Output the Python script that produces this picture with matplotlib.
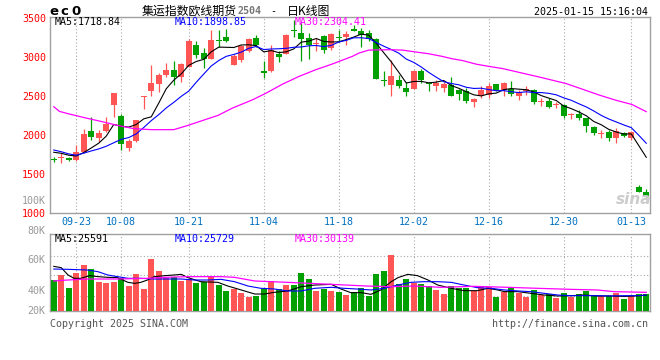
import matplotlib
matplotlib.use("Agg")
import matplotlib.pyplot as plt
import numpy as np

# Daily K-line data, EC2504 container freight futures, 2024-09-18 .. 2025-01-15
opens = [1700, 1712, 1702, 1680, 1786, 2051, 1966, 2051, 2390, 2245,
         1842, 1928, 2495, 2565, 2661, 2770, 2841, 2747, 2871, 3163,
         3056, 2979, 3225, 3266, 2897, 2970, 3077, 3248, 2818, 2829,
         3043, 3043, 3350, 3313, 3248, 3172, 3279, 3120, 3264, 3266,
         3369, 3343, 3313, 3240, 2710, 2649, 2713, 2614, 2597, 2820,
         2668, 2636, 2614, 2649, 2584, 2571, 2434, 2499, 2520, 2662,
         2584, 2597, 2507, 2571, 2584, 2428, 2443, 2386, 2392, 2257,
         2276, 2220, 2104, 2021, 2049, 1972, 2027, 1963, 1333, 1277]
highs = [1720, 1770, 1720, 1870, 2077, 2235, 2064, 2240, 2545, 2275,
         1958, 2200, 2510, 2905, 2800, 2927, 2949, 2927, 3240, 3214,
         3120, 3356, 3356, 3369, 3043, 3163, 3248, 3283, 2957, 3163,
         3086, 3300, 3484, 3441, 3313, 3248, 3285, 3308, 3356, 3334,
         3420, 3377, 3356, 3245, 2829, 2970, 2777, 2691, 2841, 2854,
         2691, 2713, 2691, 2743, 2590, 2614, 2477, 2627, 2670, 2665,
         2691, 2700, 2584, 2627, 2597, 2477, 2477, 2426, 2396, 2293,
         2327, 2229, 2126, 2070, 2070, 2100, 2049, 2057, 1363, 1307]
lows = [1660, 1650, 1672, 1675, 1780, 1936, 1915, 2045, 2230, 1815,
        1800, 1920, 2335, 2500, 2554, 2743, 2649, 2683, 2871, 2991,
        2863, 2979, 3129, 3193, 2897, 2940, 3070, 3140, 2734, 2811,
        2940, 3043, 3257, 2957, 2978, 3077, 3051, 3099, 3197, 3163,
        3334, 3129, 3206, 2720, 2627, 2499, 2614, 2499, 2597, 2670,
        2563, 2571, 2554, 2499, 2456, 2413, 2370, 2477, 2477, 2570,
        2507, 2499, 2456, 2520, 2404, 2379, 2357, 2357, 2229, 2207,
        2199, 2049, 2006, 1972, 1929, 1907, 1984, 1942, 1277, 1213]
closes = [1690, 1720, 1692, 1786, 2013, 1978, 2030, 2141, 2540, 1895,
          1923, 2195, 2507, 2670, 2777, 2841, 2743, 2914, 3214, 3026,
          2979, 3227, 3212, 3206, 3013, 3141, 3240, 3154, 2808, 3099,
          3009, 3291, 3340, 3240, 3163, 3182, 3099, 3304, 3254, 3304,
          3343, 3291, 3240, 2726, 2700, 2756, 2627, 2550, 2820, 2713,
          2658, 2674, 2657, 2499, 2533, 2443, 2469, 2584, 2636, 2576,
          2670, 2533, 2550, 2597, 2434, 2438, 2370, 2396, 2242, 2267,
          2229, 2126, 2027, 2031, 1972, 2057, 1997, 2040, 1277, 1226]

# moving average lines as drawn on the chart
ma5 = [1783, 1770, 1745, 1735, 1780, 1838, 1900, 1990, 2140, 2117,
       2106, 2139, 2212, 2238, 2414, 2598, 2708, 2789, 2898, 2948,
       2975, 3072, 3132, 3130, 3127, 3160, 3162, 3151, 3071, 3088,
       3062, 3072, 3109, 3196, 3209, 3243, 3205, 3198, 3200, 3229,
       3261, 3299, 3286, 3181, 3060, 2943, 2810, 2672, 2691, 2693,
       2674, 2683, 2704, 2640, 2604, 2561, 2520, 2506, 2533, 2542,
       2587, 2600, 2593, 2585, 2557, 2510, 2478, 2447, 2376, 2343,
       2301, 2252, 2178, 2136, 2077, 2043, 2017, 2019, 1869, 1719]
ma10 = [1812, 1790, 1762, 1745, 1772, 1800, 1826, 1860, 1905, 1949,
        1972, 2019, 2101, 2189, 2266, 2352, 2423, 2501, 2568, 2681,
        2787, 2890, 2960, 3014, 3038, 3068, 3117, 3141, 3101, 3108,
        3111, 3117, 3130, 3134, 3149, 3153, 3139, 3154, 3198, 3219,
        3252, 3252, 3242, 3191, 3144, 3102, 3055, 2979, 2936, 2877,
        2808, 2746, 2688, 2665, 2649, 2617, 2602, 2605, 2587, 2573,
        2574, 2560, 2549, 2559, 2549, 2549, 2539, 2520, 2481, 2450,
        2406, 2365, 2313, 2256, 2210, 2172, 2134, 2099, 2002, 1899]
ma30_x = [0, 0.75, 1.9, 4.1, 6.3, 8.5, 10.7, 13, 16, 17.9, 19.6, 21.9, 23.8,
          26.5, 28.3, 30.5, 32.7, 34.9, 37.1, 39.8, 40.7, 42, 44.7, 46.5,
          48.3, 50, 51.8, 53.1, 54.5, 56.3, 58, 59.8, 61.6, 63.4, 65.1,
          68.3, 70.5, 72.7, 74.9, 77.1, 79]
ma30 = [2368, 2308, 2278, 2227, 2179, 2128, 2086, 2073, 2073, 2128, 2183,
        2256, 2349, 2456, 2541, 2657, 2756, 2841, 2914, 3013, 3056, 3094,
        3099, 3094, 3069, 3047, 3013, 2983, 2960, 2914, 2885, 2858, 2818,
        2778, 2740, 2665, 2592, 2518, 2452, 2396, 2304]

# volume (thousand lots)
volumes = [50.0, 58.1, 37.6, 61.8, 74.2, 67.7, 47.3, 45.7, 47.3, 52.7,
           40.3, 59.7, 35.5, 83.9, 65.0, 52.7, 55.4, 48.9, 51.1, 45.7,
           46.2, 56.4, 41.9, 32.3, 35.5, 29.6, 23.1, 24.7, 34.9, 48.4,
           35.5, 41.9, 41.9, 61.8, 51.6, 32.3, 35.5, 32.3, 30.6, 25.8,
           30.6, 37.6, 24.7, 59.7, 64.5, 90.3, 43.5, 51.6, 44.6, 43.5,
           40.3, 33.9, 27.4, 40.3, 37.6, 37.6, 32.8, 39.2, 39.2, 23.1,
           31.2, 37.6, 29.6, 23.1, 33.9, 25.8, 27.4, 21.5, 29.6, 23.1,
           27.4, 32.3, 25.8, 24.7, 24.2, 29.6, 19.4, 24.2, 27.4, 27.4]
vma5_x = [0, 1, 1.9, 2.7, 3.6, 4.8, 5.9, 7.2, 8.5, 9.9, 10.8, 11.6, 12.5,
          13.4, 14.8, 16.1, 17, 17.9, 19.6, 21.9, 23.2, 25, 26.8, 28.1,
          29.4, 31.2, 33, 34.8, 37, 38.3, 39.6, 41, 42.3, 43.6, 45, 45.9,
          47.2, 48.5, 49.9, 51.2, 53, 54.7, 56.5, 57.9, 59.2, 60.1, 61.9,
          63.6, 65.4, 67.2, 69, 70.7, 72.5, 74.3, 76.1, 77.9, 79]
vma5 = [72, 69.9, 58.1, 52.7, 52.7, 57.0, 55.4, 54.3, 53.8, 46.2, 44.6,
        46.2, 50.0, 55.4, 57.0, 58.1, 59.1, 53.8, 47.3, 46.2, 40.3, 33.9,
        27.4, 27.4, 30.1, 32.3, 39.2, 41.9, 43.0, 35.5, 29.6, 29.6, 26.9,
        33.9, 47.3, 53.8, 59.1, 57.0, 50.0, 41.9, 36.6, 32.8, 32.8, 36.6,
        33.9, 31.2, 31.2, 28.5, 25.8, 24.2, 24.7, 25.8, 24.2, 24.2, 23.5,
        24.5, 25.6]
vma10_x = [0, 1.9, 4.5, 5.9, 7.2, 8.5, 9.9, 11.6, 13.4, 15.2, 17, 18.7,
           20.5, 22.3, 24.1, 25.9, 27.6, 29.4, 31.2, 33, 34.8, 37, 38.7,
           40.4, 42.3, 44.1, 45.9, 47.6, 49.4, 51.2, 53, 54.7, 56.5, 58.3,
           60.1, 61.9, 63.6, 65.4, 67.2, 69, 70.7, 72.5, 74.3, 76.1, 77.9, 79]
vma10 = [67.7, 67.2, 66.1, 63.4, 58.1, 55.4, 52.7, 52.7, 51.6, 51.6, 51.6,
         50.0, 50.0, 51.1, 47.3, 40.3, 36.6, 35.5, 32.3, 32.3, 36.6, 38.2,
         36.6, 35.5, 33.9, 36.6, 41.9, 46.2, 47.3, 47.3, 46.2, 41.9, 37.6,
         36.6, 33.9, 32.3, 31.2, 28.5, 25.8, 24.7, 24.7, 24.7, 24.2, 24.7,
         24.7, 25.7]
vma30_x = [0, 1.9, 4.5, 8.5, 12.5, 14.8, 17.9, 22.3, 24.1, 26.8, 31.2, 37,
           41.7, 45, 48.1, 51.6, 56, 60.5, 64.5, 69, 72.5, 74.7, 79]
vma30 = [48.4, 50.0, 51.6, 51.6, 52.7, 54.3, 55.4, 55.4, 54.3, 48.4, 46.2,
         43.0, 40.3, 39.2, 40.3, 38.2, 39.8, 38.2, 36.6, 34.9, 33.9, 31.2, 30.1]

# x axis dates (candle index -> label)
date_pos = [3, 9, 18, 28, 38, 48, 58, 68, 77]
date_labels = ['09-23', '10-08', '10-21', '11-04', '11-18',
               '12-02', '12-16', '12-30', '01-13']
price_ticks = [1000, 1500, 2000, 2500, 3000, 3500]

RED = '#ff5555'
GREEN = '#00a000'
GRID = '#aaaaaa'
FRAME = '#a0a0a0'
MONO = 'DejaVu Sans Mono'
CJK = ['Noto Sans CJK SC', 'DejaVu Sans']
FS = 7.2

W, H = 660, 360


def fx(x):
    return x / W


def fy(y):
    return 1 - y / H


fig = plt.figure(figsize=(6.6, 3.6), dpi=100)
ax = fig.add_axes([fx(50), fy(213.3), 600 / W, (213.3 - 16.5) / H])
axv = fig.add_axes([fx(50), fy(311), 600 / W, (311 - 234.3) / H])

idx = np.arange(len(closes))
o = np.array(opens, dtype=float)
c = np.array(closes, dtype=float)
cols = np.where(c >= o, RED, GREEN)

# candles: wicks then bodies (doji get a thin body)
ax.vlines(idx, lows, highs, colors=cols, lw=0.9, zorder=2)
diff = np.abs(c - o)
body = np.maximum(diff, 14)
ax.bar(idx, body, bottom=np.minimum(o, c) - (body - diff) / 2, width=0.8,
       color=cols, linewidth=0, zorder=3)

ax.plot(idx, ma5, color='black', lw=0.8, zorder=4)
ax.plot(idx, ma10, color='#0000ff', lw=0.8, zorder=4)
ax.plot(ma30_x, ma30, color='#ff00ff', lw=0.9, zorder=4)

ax.set_xlim(-0.5, 79.5)
ax.set_ylim(1000, 3525)
ax.set_yticks(price_ticks)
ax.set_yticklabels([str(t) for t in price_ticks], color='red',
                   fontfamily=MONO, fontsize=FS)
ax.set_yticks([1500, 2000, 2500, 3000], minor=True)
ax.set_xticks(date_pos)
ax.set_xticklabels(date_labels, color='#0070c0', fontfamily=MONO, fontsize=FS)
ax.tick_params(axis='both', which='both', length=0, pad=2.9)
ax.yaxis.grid(True, which='minor', ls=(0, (1, 2)), color=GRID, lw=0.8)
ax.xaxis.grid(True, which='major', ls=(0, (1, 2)), color=GRID, lw=0.8)
ax.set_axisbelow(True)

# volume panel
axv.bar(idx, volumes, width=0.82, color=cols, linewidth=0, zorder=3)
axv.plot(vma5_x, vma5, color='black', lw=0.8, zorder=4)
axv.plot(vma10_x, vma10, color='#0000ff', lw=0.8, zorder=4)
axv.plot(vma30_x, vma30, color='#ff00ff', lw=0.9, zorder=4)
axv.set_xlim(-0.5, 79.5)
axv.set_ylim(0, 123.7)
axv.set_xticks(date_pos)
axv.set_xticklabels([])
axv.set_yticks([])
axv.set_yticks([24.7, 58.1, 89.2], minor=True)
axv.tick_params(axis='both', which='both', length=0)
axv.yaxis.grid(True, which='minor', ls=(0, (1, 2)), color=GRID, lw=0.8)
axv.xaxis.grid(True, which='major', ls=(0, (1, 2)), color=GRID, lw=0.8)
axv.set_axisbelow(True)

for a in (ax, axv):
    for s in a.spines.values():
        s.set_color(FRAME)
        s.set_linewidth(1.0)

# header
for ch, x in zip('ec0', [53.5, 64, 76]):
    fig.text(fx(x), fy(11.5), ch, ha='center', va='center', fontsize=9.5,
             fontweight='bold', family='DejaVu Sans', color='black')
fig.text(fx(141.5), fy(11), '集运指数欧线期货', ha='left', va='center',
         fontsize=8.6, family=CJK, color='black')
fig.text(fx(238), fy(11.5), '2504', ha='left', va='center', fontsize=FS,
         family=MONO, fontweight='bold', color='#777777')
fig.text(fx(270), fy(11.5), '-', ha='left', va='center', fontsize=FS,
         family=MONO, color='black')
fig.text(fx(287), fy(11), '日K线图', ha='left', va='center',
         fontsize=8.6, family=CJK, color='black')
fig.text(fx(648), fy(11.7), '2025-01-15 15:16:04', ha='right', va='center',
         fontsize=FS, family=MONO, color='black')

# MA legends
fig.text(fx(54.7), fy(22), 'MA5:1718.84', ha='left', va='center',
         fontsize=FS, family=MONO, color='black')
fig.text(fx(174.7), fy(22), 'MA10:1898.85', ha='left', va='center',
         fontsize=FS, family=MONO, color='#0000ff')
fig.text(fx(294.7), fy(22), 'MA30:2304.41', ha='left', va='center',
         fontsize=FS, family=MONO, color='#ff00ff')
fig.text(fx(54.7), fy(238.7), 'MA5:25591', ha='left', va='center',
         fontsize=FS, family=MONO, color='black')
fig.text(fx(174.7), fy(238.7), 'MA10:25729', ha='left', va='center',
         fontsize=FS, family=MONO, color='#0000ff')
fig.text(fx(294.7), fy(238.7), 'MA30:30139', ha='left', va='center',
         fontsize=FS, family=MONO, color='#ff00ff')

# volume scale labels (as printed by the source chart)
for lab, y in zip(['100K', '80K', '60K', '40K', '20K'],
                  [200.5, 230.8, 260.3, 290.8, 311]):
    fig.text(fx(45.5), fy(y), lab, ha='right', va='center', fontsize=FS,
             family=MONO, color='#999999')

# footer + watermark
fig.text(fx(50), fy(323.7), 'Copyright 2025 SINA.COM', ha='left', va='center',
         fontsize=FS, family=MONO, color='#555555')
fig.text(fx(648), fy(323.7), 'http://finance.sina.com.cn', ha='right',
         va='center', fontsize=FS, family=MONO, color='#555555')
fig.text(fx(634), fy(199), 'sina', ha='center', va='center', fontsize=11,
         fontweight='bold', style='italic', family='DejaVu Sans',
         color='#cccccc', zorder=1)

fig.savefig('out.png', dpi=100)
